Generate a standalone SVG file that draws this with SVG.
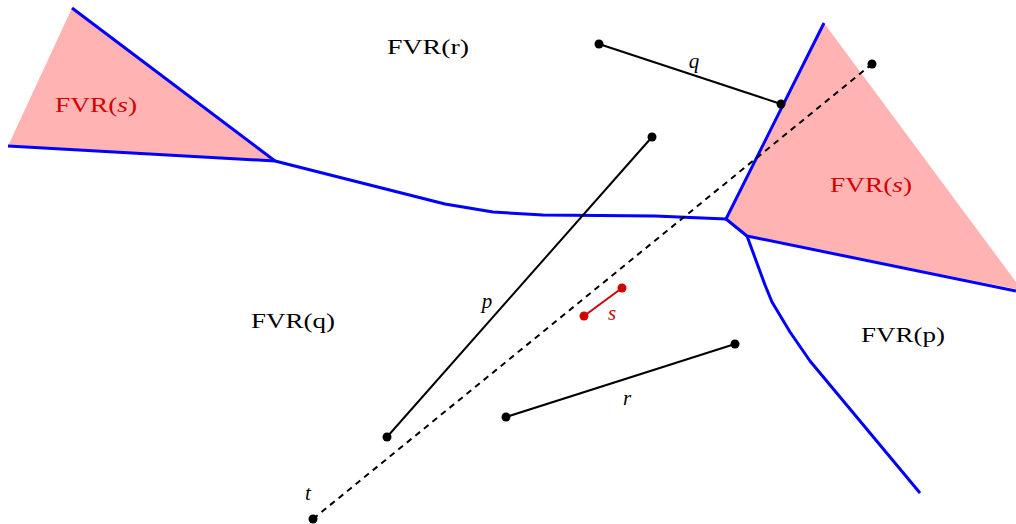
<svg xmlns="http://www.w3.org/2000/svg" width="1016" height="524" viewBox="0 0 1016 524">
<style>
.region{fill:#ffb3b3;stroke:none}
.blue{fill:none;stroke:#0000ff;stroke-width:3;stroke-linejoin:round}
.seg{stroke:#000;stroke-width:2;fill:none}
.red{stroke:#d40000;stroke-width:2;fill:none}
.dash{stroke:#000;stroke-width:2;fill:none;stroke-dasharray:6,5}
.lbl{font-family:"Liberation Serif",serif;font-size:21px;fill:#000}
.rl{fill:#d40000}
.it{font-style:italic}
</style>
<rect width="1016" height="524" fill="#fff"/>
<g id="regions">
<polygon class="region" points="72,8 8,146 275,161"/>
<polygon class="region" points="824,23 726,219 747,236 1016,289 1016,282"/>
</g>
<g id="connectors">
<polyline class="blue" points="72,8 275,161"/>
<polyline class="blue" points="8,146 275,161 445,204 493,212 543,215 655,216 726,219 824,23"/>
<polyline class="blue" points="726,219 747,236 1016,291"/>
<polyline class="blue" points="747,236 765,285 772,302 790,332 810,361 920,493"/>
<line class="dash" x1="313" y1="519" x2="872" y2="64"/>
<line class="seg" x1="599" y1="44" x2="781" y2="104"/>
<line class="seg" x1="652" y1="137" x2="387" y2="437"/>
<line class="seg" x1="506" y1="417" x2="735" y2="344"/>
<line class="red" x1="584" y1="316" x2="622" y2="288"/>
</g>
<g id="points">
<circle cx="599" cy="44" r="4.5"/>
<circle cx="781" cy="104" r="4.5"/>
<circle cx="652" cy="137" r="4.5"/>
<circle cx="387" cy="437" r="4.5"/>
<circle cx="506" cy="417" r="4.5"/>
<circle cx="735" cy="344" r="4.5"/>
<circle cx="872" cy="64" r="4.5"/>
<circle cx="313" cy="519" r="4.5"/>
<circle cx="584" cy="316" r="4.5" fill="#d40000"/>
<circle cx="622" cy="288" r="4.5" fill="#d40000"/>
</g>
<g id="labels">
<text class="lbl" x="387" y="54" textLength="82" lengthAdjust="spacingAndGlyphs">FVR(r)</text>
<text class="lbl" x="251" y="328" textLength="84" lengthAdjust="spacingAndGlyphs">FVR(q)</text>
<text class="lbl" x="861" y="342" textLength="84" lengthAdjust="spacingAndGlyphs">FVR(p)</text>
<text class="lbl rl" x="55" y="112" textLength="82" lengthAdjust="spacingAndGlyphs">FVR(<tspan class="it">s</tspan>)</text>
<text class="lbl rl" x="830" y="192" textLength="82" lengthAdjust="spacingAndGlyphs">FVR(<tspan class="it">s</tspan>)</text>
<text class="lbl it" x="694" y="68" text-anchor="middle">q</text>
<text class="lbl it" x="487" y="308" text-anchor="middle">p</text>
<text class="lbl it" x="627" y="405" text-anchor="middle">r</text>
<text class="lbl it rl" x="612" y="320" text-anchor="middle">s</text>
<text class="lbl it" x="308" y="500" text-anchor="middle">t</text>
</g>
</svg>
